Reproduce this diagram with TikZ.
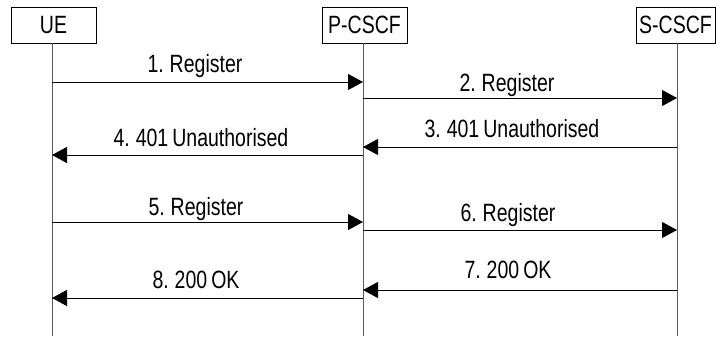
\documentclass[tikz,border=0pt]{standalone}
\usepackage{fontspec}
\setmainfont[FakeStretch=0.78,WordSpace=0.75]{Liberation Sans}
\usetikzlibrary{arrows.meta}
\begin{document}
\begin{tikzpicture}[x=1pt,y=-1pt,
  ent/.style={draw, line width=1pt, minimum height=36pt, inner sep=0pt, font=\fontsize{25}{27}\selectfont},
  life/.style={draw=black!65, line width=0.9pt},
  msg/.style={line width=1pt, -{Triangle[length=15pt,width=16pt]}},
  lbl/.style={font=\fontsize{25}{27}\selectfont, inner sep=0pt, anchor=base}]
\useasboundingbox (0,0) rectangle (716,338);
% entities
\node[ent, minimum width=85pt] (ue) at (53.5,25) {UE};
\node[ent, minimum width=85pt] (pc) at (364.5,25) {P-CSCF};
\node[ent, minimum width=79pt] (sc) at (675.5,25) {S-CSCF};
% lifelines
\coordinate (uet) at (52,43);  \coordinate (ueb) at (52,336);
\coordinate (pct) at (363,43); \coordinate (pcb) at (363,336);
\coordinate (sct) at (677,43); \coordinate (scb) at (677,336);
\draw[life] (uet) -- (ueb);
\draw[life] (pct) -- (pcb);
\draw[life] (sct) -- (scb);
% messages
\coordinate (u1) at (52,82);  \coordinate (p1) at (363,82);
\draw[msg] (u1) -- (p1);
\node[lbl] (m1) at (195,72) {1. Register};
\coordinate (p2) at (363,98); \coordinate (s2) at (677,98);
\draw[msg] (p2) -- (s2);
\node[lbl] (m2) at (507,91) {2. Register};
\coordinate (s3) at (677,147); \coordinate (p3) at (363,147);
\draw[msg] (s3) -- (p3);
\node[lbl] (m3) at (512,137) {3. 401 Unauthorised};
\coordinate (p4) at (363,155); \coordinate (u4) at (52,155);
\draw[msg] (p4) -- (u4);
\node[lbl] (m4) at (201,146.5) {4. 401 Unauthorised};
\coordinate (u5) at (52,222);  \coordinate (p5) at (363,222);
\draw[msg] (u5) -- (p5);
\node[lbl] (m5) at (196,215) {5. Register};
\coordinate (p6) at (363,230); \coordinate (s6) at (677,230);
\draw[msg] (p6) -- (s6);
\node[lbl] (m6) at (508,221) {6. Register};
\coordinate (s7) at (677,290); \coordinate (p7) at (363,290);
\draw[msg] (s7) -- (p7);
\node[lbl] (m7) at (508,278) {7. 200 OK};
\coordinate (p8) at (363,298); \coordinate (u8) at (52,298);
\draw[msg] (p8) -- (u8);
\node[lbl] (m8) at (196,288) {8. 200 OK};
\end{tikzpicture}
\end{document}
